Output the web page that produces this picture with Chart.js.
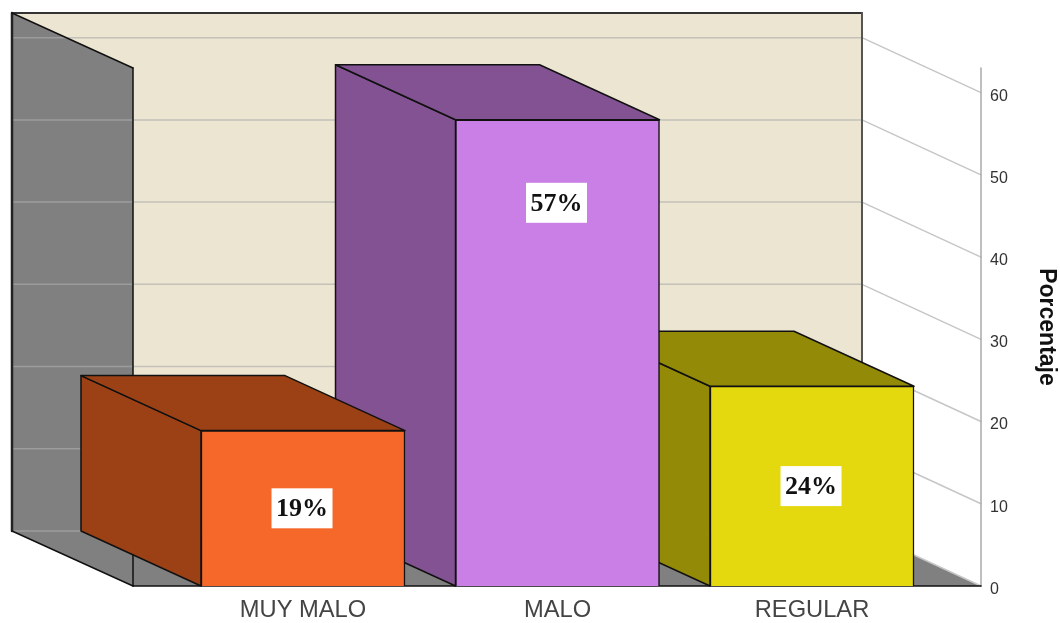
<!DOCTYPE html>
<html>
<head>
<meta charset="utf-8">
<title>Porcentaje</title>
<script src="https://cdn.jsdelivr.net/npm/chart.js@4"></script>
<style>
  html, body { margin: 0; padding: 0; background: #fff; }
  #wrap { width: 1060px; height: 623px; }
  canvas { display: block; }
</style>
</head>
<body>
<div id="wrap"><canvas id="chart" width="1060" height="623"></canvas></div>
<script>
const categories = ["MUY MALO", "MALO", "REGULAR"]
const porcentaje = [18.9, 56.7, 24.3]
const barLabels = ["19%", "57%", "24%"]
const yTicks = [0, 10, 20, 30, 40, 50, 60]

const frontColors = ["#f5682a", "#c97fe5", "#e4d80f"]
const sideColors = ["#9c4116", "#835292", "#938a08"]

// how far the box is pushed back, in px
const depthX = 120
const depthY = 55

function poly(ctx, pts, fill, stroke, lw){
    ctx.beginPath()
    pts.forEach((p,i)=> i==0 ? ctx.moveTo(p[0],p[1]) : ctx.lineTo(p[0],p[1]))
    ctx.closePath()
    if(fill){ ctx.fillStyle = fill; ctx.fill() }
    if(stroke){ ctx.strokeStyle = stroke; ctx.lineWidth = lw; ctx.stroke() }
}

function line(ctx, x1, y1, x2, y2, color, lw){
    ctx.beginPath()
    ctx.moveTo(x1,y1)
    ctx.lineTo(x2,y2)
    ctx.strokeStyle = color
    ctx.lineWidth = lw
    ctx.stroke()
}

const box3d = {
    id: "box3d",
    beforeDatasetsDraw(chart){
        const ctx = chart.ctx
        const a = chart.chartArea
        const y = chart.scales.y
        const base = y.getPixelForValue(0)
        const backL = a.left - depthX - 1, backR = a.right - depthX + 1
        const backT = a.top - depthY, backB = base - depthY

        ctx.save()
        ctx.lineJoin = "round"
        ctx.lineCap = "round"
        // back wall and floor
        poly(ctx, [[backL,backT],[backR,backT],[backR,backB],[backL,backB]], "#ebe5d1")
        poly(ctx, [[backL,backB],[a.left,base],[a.right,base],[backR,backB]], "#808080")
        // left wall
        poly(ctx, [[backL,backT],[a.left,a.top],[a.left,base],[backL,backB]], "#808080")

        // grid lines along the wall, then down to the axis
        yTicks.forEach(t=>{
            const py = y.getPixelForValue(t)
            line(ctx, backL, py-depthY, backR, py-depthY, "rgba(173,173,173,0.63)", 1.5)
            line(ctx, backR, py-depthY, a.right, py, "#c6c6c6", 1.5)
        })

        // frame edges
        line(ctx, backL, backT, backR, backT, "#333", 2)
        line(ctx, backR, backT, backR, backB, "#555", 2)
        line(ctx, backL, backT, backL, backB, "#222", 2.5)
        line(ctx, backL, backT, a.left, a.top, "#111", 1.5)
        line(ctx, a.left, a.top, a.left, base, "#111", 1.5)
        line(ctx, backL, backB, a.left, base, "#111", 1.5)
        line(ctx, a.right, a.top, a.right, base, "#aaa", 1.5)
        line(ctx, a.left, base, a.right, base, "#111", 1.5)

        // sides and tops of the bars, back to front
        const bars = chart.getDatasetMeta(0).data
        for(let i=bars.length-1; i>=0; i--){
            const b = bars[i]
            const x0 = b.x - b.width/2, x1 = b.x + b.width/2
            poly(ctx, [[x0,b.y],[x0-depthX,b.y-depthY],[x0-depthX,base-depthY],[x0,base]], sideColors[i], "#111", 1.5)
            poly(ctx, [[x0,b.y],[x1,b.y],[x1-depthX,b.y-depthY],[x0-depthX,b.y-depthY]], sideColors[i], "#111", 1.5)
        }
        ctx.restore()
    },
    afterDatasetsDraw(chart, args, opts){
        const ctx = chart.ctx
        const y = chart.scales.y
        const base = y.getPixelForValue(0)
        ctx.save()
        chart.getDatasetMeta(0).data.forEach((b,i)=>{
            const cy = base - (base - b.y) * opts.labelAt[i]
            ctx.fillStyle = "#fff"
            ctx.fillRect(b.x - 31.5, cy - 20, 61, 40)
            ctx.fillStyle = "#111"
            ctx.font = "bold 26px 'Liberation Serif'"
            ctx.textAlign = "center"
            ctx.textBaseline = "middle"
            ctx.fillText(barLabels[i], b.x - 1, cy + 1)
        })
        ctx.restore()
    }
}

new Chart(document.getElementById("chart"), {
    type: "bar",
    data: {
        labels: categories,
        datasets: [{
            label: "Porcentaje",
            data: porcentaje.map((v,i)=>({x:i+1, y:v})),
            backgroundColor: frontColors,
            borderColor: "#111",
            borderWidth: 1.5,
            barThickness: 204
        }]
    },
    plugins: [box3d],
    options: {
        responsive: false,
        animation: false,
        layout: { padding: { left: 133, top: 68, right: 0, bottom: 0 } },
        plugins: {
            legend: { display: false },
            tooltip: { enabled: false },
            box3d: { labelAt: [0.5, 0.822, 0.5] }
        },
        scales: {
            x: {
                type: "linear",
                offset: false,
                min: 0.332,
                max: 3.664,
                grid: { display: false, drawTicks: false },
                border: { display: false },
                afterBuildTicks: s => { s.ticks = categories.map((c,i)=>({value:i+1})) },
                afterFit: s => { s.height = 37 },
                ticks: {
                    autoSkip: false,
                    maxRotation: 0,
                    padding: 10,
                    color: "#444",
                    font: { family: "'Liberation Sans'", size: 23.7 },
                    callback: v => categories[v-1]
                }
            },
            y: {
                position: "right",
                min: 0,
                max: 63,
                grid: { display: false, drawTicks: false },
                border: { display: false },
                afterFit: s => { s.width = 79 },
                ticks: {
                    stepSize: 10,
                    includeBounds: false,
                    padding: 9,
                    labelOffset: 3.5,
                    color: "#333",
                    font: { family: "'Liberation Sans'", size: 16 }
                },
                title: {
                    display: true,
                    text: "Porcentaje",
                    color: "#111",
                    font: { family: "'Liberation Sans'", size: 23, weight: "bold" },
                    padding: { top: 0, bottom: 6 }
                }
            }
        }
    }
})
</script>
</body>
</html>
